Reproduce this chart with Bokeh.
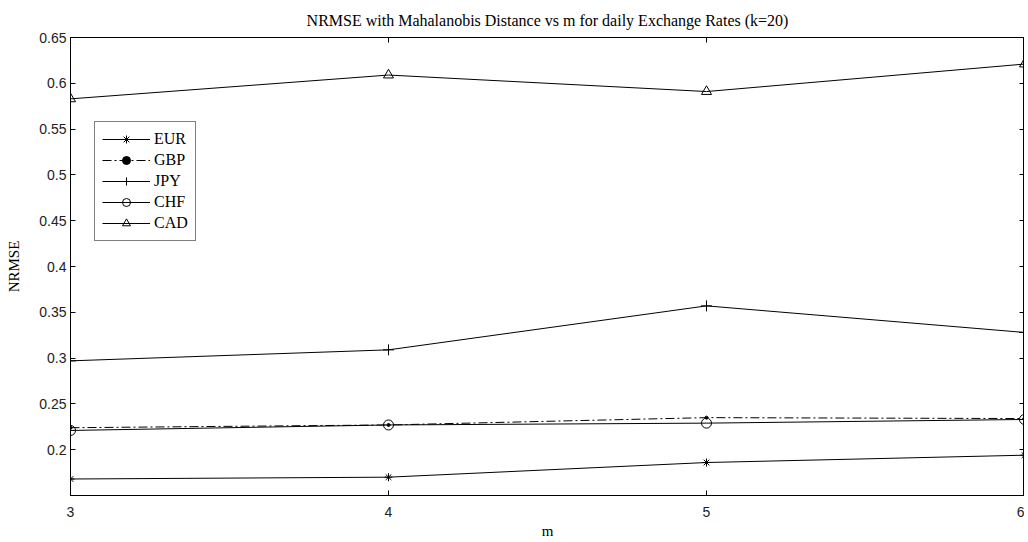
from bokeh.plotting import figure
from bokeh.models import Range1d, FixedTicker, LinearAxis, Legend, LegendItem
from bokeh.embed import file_html
from bokeh.resources import INLINE

# ---- data ----
m_values = [3, 4, 5, 6]
EUR = [0.168, 0.170, 0.186, 0.194]
GBP = [0.224, 0.227, 0.235, 0.234]
JPY = [0.297, 0.309, 0.357, 0.328]
CHF = [0.221, 0.227, 0.229, 0.233]
CAD = [0.583, 0.609, 0.591, 0.621]

xtick_values = [3, 4, 5, 6]
ytick_values = [0.2, 0.25, 0.3, 0.35, 0.4, 0.45, 0.5, 0.55, 0.6, 0.65]
ytick_labels = ["0.2", "0.25", "0.3", "0.35", "0.4", "0.45", "0.5", "0.55", "0.6", "0.65"]

SERIF = "Liberation Serif"
SANS = "Liberation Sans"

p = figure(width=1024, height=541, output_backend="svg", toolbar_location=None,
           x_range=Range1d(3, 6), y_range=Range1d(0.15, 0.65),
           min_border_left=70, min_border_right=0, min_border_top=37, min_border_bottom=43)

p.title.text = "NRMSE with Mahalanobis Distance vs m for daily Exchange Rates (k=20)"
p.title.align = "center"
p.title.vertical_align = "bottom"
p.title.text_font = SERIF
p.title.text_font_size = "16px"
p.title.text_line_height = 1.0
p.title.text_font_style = "normal"
p.title.text_color = "black"
p.title.standoff = 18

p.xgrid.visible = False
p.ygrid.visible = False
p.outline_line_color = "black"
p.background_fill_color = "white"
p.border_fill_color = "white"

def style_axis(ax, show_labels=True):
    ax.axis_line_color = "black"
    ax.major_tick_line_color = "black"
    ax.major_tick_in = 5
    ax.major_tick_out = 0
    ax.minor_tick_line_color = None
    ax.major_label_text_font = SANS
    ax.major_label_text_color = "#222222"
    if show_labels:
        ax.major_label_text_font_size = "14px"
        ax.major_label_standoff = 6
    else:
        ax.major_label_text_font_size = "0px"
        ax.major_label_standoff = 0

yticker = FixedTicker(ticks=ytick_values)
xticker = FixedTicker(ticks=xtick_values)
yoverrides = {v: s for v, s in zip(ytick_values, ytick_labels)}

p.xaxis.ticker = xticker
p.yaxis.ticker = yticker
p.yaxis.major_label_overrides = yoverrides
style_axis(p.xaxis[0])
style_axis(p.yaxis[0])
p.xaxis.major_label_standoff = 11
p.yaxis.major_label_standoff = 4
p.xaxis.axis_label = "m"
p.yaxis.axis_label = "NRMSE"
for ax in (p.xaxis[0], p.yaxis[0]):
    ax.axis_label_text_font = SERIF
    ax.axis_label_text_font_size = "15px"
    ax.axis_label_text_font_style = "normal"
    ax.axis_label_text_color = "black"
p.xaxis.axis_label_standoff = 3
p.yaxis.axis_label_standoff = 14

top_axis = LinearAxis(ticker=FixedTicker(ticks=xtick_values))
right_axis = LinearAxis(ticker=FixedTicker(ticks=ytick_values))
style_axis(top_axis, False)
style_axis(right_axis, False)
p.add_layout(top_axis, "above")
p.add_layout(right_axis, "right")

series = [
    ("EUR", EUR, "solid", "asterisk", 8, None),
    ("GBP", GBP, "9 3 2 3", "circle", 3, "black"),
    ("JPY", JPY, "solid", "cross", 11, None),
    ("CHF", CHF, "solid", "circle", 10, None),
    ("CAD", CAD, "solid", "triangle", 10, None),
]

items = []
for name, vals, dash, marker, size, fill in series:
    r1 = p.line(m_values, vals, line_color="black", line_width=1, line_dash=dash)
    r2 = p.scatter(m_values, vals, marker=marker, size=size, line_color="black",
                   fill_color=fill if fill else "white", fill_alpha=1 if fill else 0,
                   line_width=1)
    items.append(LegendItem(label=name, renderers=[r1, r2]))

legend = Legend(items=items, location=(24, 254))
legend.label_text_font = SERIF
legend.label_text_font_size = "16px"
legend.label_text_color = "black"
legend.border_line_color = "black"
legend.border_line_width = 1
legend.background_fill_color = "white"
legend.background_fill_alpha = 1
legend.glyph_width = 48
legend.glyph_height = 20
legend.label_height = 20
legend.label_standoff = 4
legend.spacing = 1
legend.padding = 7
legend.margin = 0
p.add_layout(legend, "center")

open("out.html", "w").write(file_html(p, INLINE))
